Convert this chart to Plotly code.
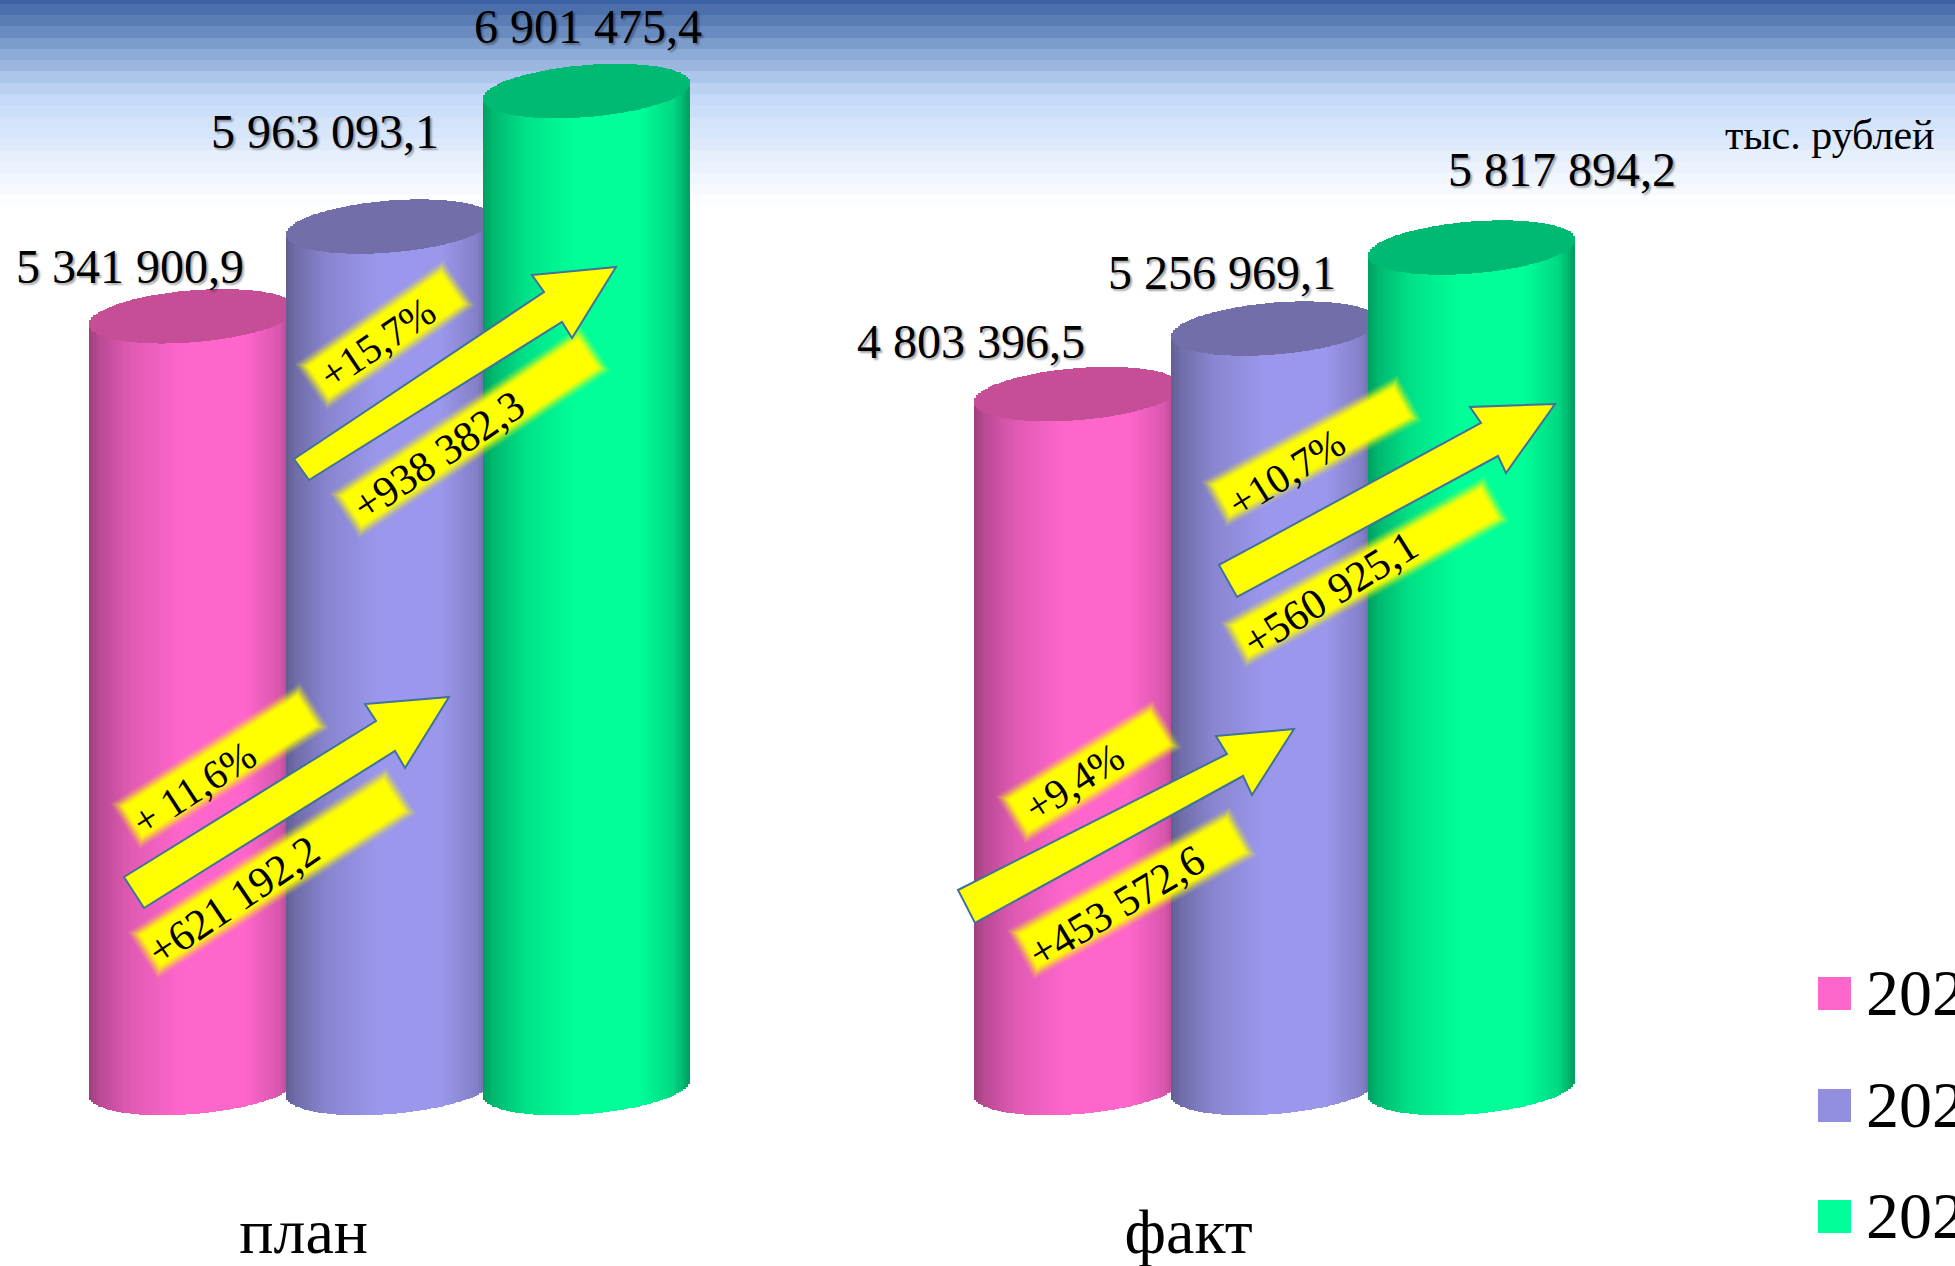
import numpy as np
import plotly.graph_objects as go

# ---------- data ----------
groups = ["план", "факт"]
series_names = ["202", "202", "202"]
values_plan = [5341900.9, 5963093.1, 6901475.4]
values_fact = [4803396.5, 5256969.1, 5817894.2]
delta_pct_plan = ["+ 11,6%", "+15,7%"]
delta_abs_plan = ["+621 192,2", "+938 382,3"]
delta_pct_fact = ["+9,4%", "+10,7%"]
delta_abs_fact = ["+453 572,6", "+560 925,1"]
unit_label = "тыс. рублей"

# ---------- style ----------
W, H = 1955, 1266
PLOT_H = 1180
PX_PER_UNIT = 1.4446e-4
Y0_PX = 1088
FONT = "Liberation Serif"
body_rgb = [(255, 102, 204), (155, 151, 236), (0, 255, 153)]
cap_rgb = [(198, 78, 150), (114, 110, 170), (0, 186, 116)]
legend_colors = ["#FF66CC", "#938FE0", "#00FF99"]
band_edges = [0, 4, 15, 26, 38, 49, 60, 71, 83, 94, 105, 117, 128, 139, 150, 162, 173, 184, 195, 206]
band_colors = ["#3A61A3", "#4A6FAB", "#5A7DB5", "#6A8BBF", "#7C9CCB", "#8CABD6", "#9BB7E0",
               "#ABC6EA", "#BAD1F2", "#C4DAF8", "#CBDFF8", "#D2E3FA", "#D6E6FC", "#DEE9FB",
               "#E6EFFC", "#EBF2FD", "#F1F7FE", "#F6FAFF", "#FCFDFF"]
GROUP_PX = 885.0
MID_PX = 389.5
STEP = 197 / GROUP_PX
CYL_W = 207 / GROUP_PX
RY = 26 / PX_PER_UNIT
TILT = 8 / PX_PER_UNIT
N = 90
shade_t = [0.0, 0.05, 0.2, 0.45, 0.75, 0.92, 1.0]
shade_v = [0.62, 0.72, 0.88, 1.0, 1.0, 0.85, 0.62]

xr = [-MID_PX / GROUP_PX, (W - MID_PX) / GROUP_PX]
yr = [(Y0_PX - PLOT_H) / PX_PER_UNIT, Y0_PX / PX_PER_UNIT]


def px(x):
    return x / W


def py(y):
    return 1 - y / PLOT_H


def rgb(c, k=1.0):
    return "rgb(%d,%d,%d)" % tuple(int(round(v * k)) for v in c)


fig = go.Figure()
for g, vals in enumerate([values_plan, values_fact]):
    for s, v in enumerate(vals):
        cx = g + (s - 1) * STEP
        edges = np.linspace(-1, 1, N + 1)
        t = (edges[:-1] + edges[1:]) / 2
        xs = cx + t * CYL_W / 2
        wid = np.full(N, CYL_W / N * 1.25)
        curve = RY * np.sqrt(1 - t ** 2)
        tilt = TILT * t
        base = tilt - curve
        colors = [rgb(body_rgb[s], k) for k in np.interp((t + 1) / 2, shade_t, shade_v)]
        fig.add_trace(go.Bar(x=xs, y=v + tilt - base, base=base, width=wid,
                             marker=dict(color=colors, line=dict(width=0)),
                             name=f"{groups[g]} {series_names[s]}", hoverinfo="skip"))
        fig.add_trace(go.Bar(x=xs, y=2 * curve, base=v + tilt - curve, width=wid,
                             marker=dict(color=rgb(cap_rgb[s]), line=dict(width=0)),
                             hoverinfo="skip"))

shapes = []
# top gradient bands
for i, c in enumerate(band_colors):
    shapes.append(dict(type="rect", xref="paper", yref="paper", x0=0, x1=1,
                       y0=py(band_edges[i + 1]), y1=py(band_edges[i]),
                       fillcolor=c, line=dict(width=0), layer="below"))


def poly(points):
    return "M" + " L".join(f"{px(x):.5f},{py(y):.5f}" for x, y in points) + " Z"


def glow_rect(cx, cy, length, width, angle):
    a = np.radians(angle)
    ux, uy = np.cos(a), -np.sin(a)
    vx, vy = np.sin(a), np.cos(a)
    for grow, op in [(6, 0.12), (4, 0.2), (2, 0.3), (0, 0.45), (-2, 0.7), (-4, 1.0)]:
        l, w = (length + 2 * grow) / 2, (width + 2 * grow) / 2
        pts = [(cx + sa * l * ux + sb * w * vx, cy + sa * l * uy + sb * w * vy)
               for sa, sb in [(-1, -1), (1, -1), (1, 1), (-1, 1)]]
        shapes.append(dict(type="path", xref="paper", yref="paper", path=poly(pts),
                           fillcolor="#FFFF00", opacity=op, line=dict(width=0), layer="above"))


annotations = []
# badges: centre x, centre y, length, width, angle, text x, text y, text angle, text, font size
badges = [
    (220, 766, 213, 42, 32.5, 194, 788, 33, delta_pct_plan[0], 41),
    (272, 873, 295, 43, 32.5, 233, 900, 34, delta_abs_plan[0], 43),
    (385, 335, 169, 44, 35, 377, 343, 34, delta_pct_plan[1], 41),
    (470, 432, 290, 42, 33.7, 438, 455, 34, delta_abs_plan[1], 43),
    (1089, 772, 172, 44, 31.5, 1074, 782, 33, delta_pct_fact[0], 41),
    (1132, 893, 243, 44, 29, 1116, 906, 31, delta_abs_fact[0], 43),
    (1312, 451, 211, 40, 28.5, 1286, 473, 32, delta_pct_fact[1], 41),
    (1365, 572, 290, 40, 29, 1330, 593, 32, delta_abs_fact[1], 43),
]
for bx, by, bl, bw, ang, tx, ty, tang, txt, fs in badges:
    glow_rect(bx, by, bl, bw, ang)
    annotations.append(dict(xref="paper", yref="paper", x=px(tx), y=py(ty), text=txt,
                            xanchor="center", yanchor="middle",
                            showarrow=False, textangle=-tang,
                            font=dict(family=FONT, size=fs, color="black")))

# arrows
arrows = [
    [(124, 877), (376, 721), (365, 704), (449, 697), (405, 768), (395, 751), (144, 908)],
    [(294, 459), (544, 292), (532, 275), (616, 267), (572, 338), (562, 322), (309, 480)],
    [(958, 890), (1227, 754), (1216, 736), (1294, 729), (1252, 795), (1243, 776), (975, 923)],
    [(1219, 565), (1481, 423), (1470, 407), (1555, 404), (1506, 473), (1498, 456), (1237, 597)],
]
for a in arrows:
    shapes.append(dict(type="path", xref="paper", yref="paper", path=poly(a),
                       fillcolor="#FFFF00", line=dict(color="#41719C", width=2), layer="above"))

# value labels
label_shift = [[(-63, 50), (-65, 95), (1, 65)], [(-107, 53), (-53, 56), (90, 78)]]
for g, vals in enumerate([values_plan, values_fact]):
    for s, v in enumerate(vals):
        txt = f"{v:,.1f}".replace(",", " ").replace(".", ",")
        annotations.append(dict(x=g + (s - 1) * STEP, y=v, xref="x", yref="y", text=txt,
                                showarrow=False, xshift=label_shift[g][s][0], yshift=label_shift[g][s][1],
                                font=dict(family=FONT, size=48, color="black",
                                          shadow="2px 2px 2px rgba(0,0,0,0.35)")))

annotations.append(dict(xref="paper", yref="paper", x=px(1830), y=py(135), text=unit_label,
                        xanchor="center", yanchor="middle",
                        showarrow=False, font=dict(family=FONT, size=42, color="black")))

# legend
legend_top = [977, 1089, 1200]
for name, top, col in zip(series_names, legend_top, legend_colors):
    shapes.append(dict(type="rect", xref="paper", yref="paper", x0=px(1818), x1=px(1851),
                       y0=py(top + 33), y1=py(top), fillcolor=col, line=dict(width=0), layer="above"))
    annotations.append(dict(xref="paper", yref="paper", x=px(1864), y=py(top + 15), text=name,
                            xanchor="left", yanchor="middle", showarrow=False,
                            font=dict(family=FONT, size=66, color="black")))

tick_offset = -0.097
fig.update_layout(
    width=W, height=H, margin=dict(l=0, r=0, t=0, b=H - PLOT_H, pad=0),
    barmode="overlay", bargap=0, showlegend=False,
    paper_bgcolor="white", plot_bgcolor="rgba(0,0,0,0)",
    shapes=shapes, annotations=annotations,
    xaxis=dict(range=xr, tickvals=[i + tick_offset for i in range(len(groups))], ticktext=groups,
               tickfont=dict(family=FONT, size=64, color="black"), showgrid=False, zeroline=False,
               showline=False, ticks="", ticklabelstandoff=8, fixedrange=True),
    yaxis=dict(range=yr, visible=False, fixedrange=True),
)
fig.write_html("out.html", config={"displayModeBar": False},
               post_script="document.body.style.margin='0';document.body.style.overflow='hidden';")
